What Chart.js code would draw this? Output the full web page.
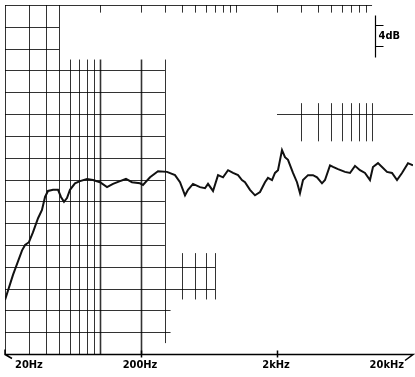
<!DOCTYPE html>
<html>
<head>
<meta charset="utf-8">
<script src="https://cdn.jsdelivr.net/npm/chart.js@4.4.1/dist/chart.umd.min.js"></script>
<style>
  body { margin: 0; background: #fff; }
  canvas { display: block; }
</style>
</head>
<body>
<canvas id="response" width="415" height="377"></canvas>
<script>
// frequency response (Hz / dB, 4 dB per division)
const freqHz = [20, 22.9, 26.7, 28.1, 30, 32.1, 35, 37.4, 39.4, 41.4, 45.1, 49.1, 51.6, 54.3, 57.1, 60.1, 65.4, 71.2, 80.2, 88.7,
  99.9, 112.5, 124.5, 140.2, 155.1, 171.7, 196.6, 206.8, 233, 266.7, 310.7, 355.7, 387.2, 421.4, 443.2, 482.4, 543, 591, 622, 677,
  737, 802, 873, 950, 1034, 1105, 1163, 1266, 1378, 1500, 1632, 1717, 1838, 1933, 2034, 2177, 2290, 2409, 2622, 2806,
  2952, 3107, 3381, 3679, 3937, 4284, 4508, 4906, 5162, 5617, 6325, 6883, 7490, 8151, 8871, 9654, 10157, 11054, 11838, 12882,
  14019, 15256, 16602, 18376, 20000];
const levelDb = [9.9, 14.5, 19.0, 20.0, 20.5, 22.3, 24.9, 26.4, 28.8, 29.9, 30.1, 30.1, 28.8, 27.9, 28.6, 30.1, 31.3, 31.7, 32.1, 31.9,
  31.5, 30.6, 31.2, 31.7, 32.1, 31.5, 31.3, 31.0, 32.4, 33.5, 33.4, 32.8, 31.5, 29.1, 30.1, 31.2, 30.6, 30.4, 31.2, 29.9,
  32.8, 32.4, 33.7, 33.2, 32.8, 31.9, 31.5, 30.1, 29.1, 29.7, 31.5, 32.3, 31.9, 33.2, 33.7, 37.4, 36.1, 35.6, 33.2, 31.5,
  29.5, 31.9, 32.8, 32.8, 32.4, 31.3, 31.9, 34.6, 34.3, 33.9, 33.4, 33.2, 34.5, 33.7, 33.2, 31.9, 34.3, 35.0, 34.3, 33.4,
  33.2, 31.9, 33.2, 35.0, 34.6];
const tickValues = [20, 200, 2000, 20000];
const tickLabels = ['20Hz', '200Hz', '2kHz', '20kHz'];
const scaleLabel = '4dB';

// 1..9 multiples inside one decade
const decade = (base, from, to) => { let out = []; for (let m = from; m <= to; m++) out.push(base * m); return out; };
const dbSteps = (a, b) => { let out = []; for (let d = a; d <= b; d += 4) out.push(d); return out; };

// pieces of the printed paper grid: [freqs, dbFrom, dbTo, width] and [dbs, freqFrom, freqTo, width]
const vPieces = [
  [[20, 30, 40, 50], 0, 64, 1],
  [[60, 70, 80, 90], 0, 54, 1],
  [[100, 200], 0, 54, 1.6],
  [[300], 2, 54, 1],
  [[400, 500, 600, 700], 10, 18.5, 1],
  [decade(1000, 3, 10), 39, 46, 1],
  [decade(100, 1, 9).concat(decade(1000, 1, 9)), 62.6, 64, 1]
];
const hPieces = [
  [[64], 20, 10000, 1],
  [[60, 56], 20, 50, 1],
  [dbSteps(20, 52), 20, 300, 1],
  [[12, 16], 20, 700, 1],
  [[4, 8], 20, 330, 1],
  [[44], 2000, 20000, 1]
];

const paper = {
  id: 'paper',
  beforeDatasetsDraw(chart) {
    const {ctx, scales: {x, y}} = chart;
    ctx.save();
    ctx.strokeStyle = 'rgba(0,0,0,0.8)';
    vPieces.forEach(([fs, d0, d1, w]) => {
      ctx.lineWidth = w;
      fs.forEach(f => {
        const px = Math.round(x.getPixelForValue(f)) + 0.5;
        ctx.beginPath(); ctx.moveTo(px, y.getPixelForValue(d1)); ctx.lineTo(px, y.getPixelForValue(d0)); ctx.stroke();
      });
    });
    hPieces.forEach(([ds, f0, f1, w]) => {
      ctx.lineWidth = w;
      ds.forEach(d => {
        const py = Math.round(y.getPixelForValue(d)) + 0.5;
        ctx.beginPath(); ctx.moveTo(x.getPixelForValue(f0), py); ctx.lineTo(x.getPixelForValue(f1), py); ctx.stroke();
      });
    });
    ctx.restore();
  },
  afterDraw(chart) {
    const {ctx, scales: {x, y}} = chart;
    const base = Math.round(y.getPixelForValue(0)) + 0.5;
    const left = x.getPixelForValue(20), right = x.getPixelForValue(20000);
    ctx.save();
    ctx.strokeStyle = '#000';
    ctx.lineWidth = 1.5;
    ctx.beginPath();
    ctx.moveTo(left, base - 5); ctx.lineTo(left, base); ctx.lineTo(left + 7, base + 4);
    ctx.moveTo(left, base); ctx.lineTo(right, base); ctx.lineTo(right - 8, base + 6);
    [200, 2000].forEach(f => {
      const px = Math.round(x.getPixelForValue(f)) + 0.5;
      ctx.moveTo(px, base - 4); ctx.lineTo(px, base + 3);
    });
    ctx.stroke();

    ctx.fillStyle = '#000';
    ctx.font = 'bold 11px "DejaVu Sans Condensed", "DejaVu Sans"';
    ctx.textBaseline = 'alphabetic';
    tickValues.forEach((v, i) => {
      const px = x.getPixelForValue(v);
      if (i === 0) { ctx.textAlign = 'left'; ctx.fillText(tickLabels[i], px + 10, base + 13); }
      else if (i === tickValues.length - 1) { ctx.textAlign = 'right'; ctx.fillText(tickLabels[i], px - 9, base + 13); }
      else { ctx.textAlign = 'center'; ctx.fillText(tickLabels[i], px - 1, base + 13); }
    });

    // 4 dB scale marker
    const mx = Math.round(x.getPixelForValue(10500)) + 0.5;
    const t1 = Math.round(y.getPixelForValue(60.4)) + 0.5, t2 = Math.round(y.getPixelForValue(56.4)) + 0.5;
    ctx.lineWidth = 1.2;
    ctx.beginPath();
    ctx.moveTo(mx, t1 - 10); ctx.lineTo(mx, t2 + 11);
    ctx.moveTo(mx, t1); ctx.lineTo(mx + 8, t1);
    ctx.moveTo(mx, t2); ctx.lineTo(mx + 8, t2);
    ctx.stroke();
    ctx.textAlign = 'left';
    ctx.textBaseline = 'middle';
    ctx.fillText(scaleLabel, mx + 3, (t1 + t2) / 2);
    ctx.restore();
  }
};

new Chart(document.getElementById('response').getContext('2d'), {
  type: 'line',
  data: {
    datasets: [{
      data: freqHz.map((f, i) => ({x: f, y: levelDb[i]})),
      borderColor: '#111',
      borderWidth: 2,
      pointRadius: 0,
      tension: 0,
      fill: false
    }]
  },
  options: {
    responsive: false,
    animation: false,
    layout: {padding: {left: 5, right: 2, top: 5, bottom: 23}},
    plugins: {legend: {display: false}, tooltip: {enabled: false}},
    scales: {
      x: {type: 'logarithmic', min: 20, max: 20000, display: false},
      y: {type: 'linear', min: 0, max: 64, display: false}
    }
  },
  plugins: [paper]
});
</script>
</body>
</html>
